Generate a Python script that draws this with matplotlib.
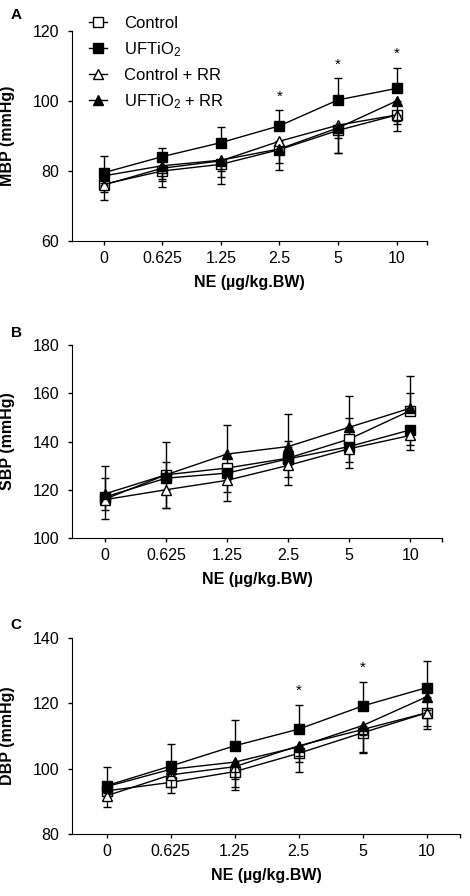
import numpy as np
import matplotlib
matplotlib.use("Agg")
import matplotlib.pyplot as plt

plt.rcParams['font.family'] = ['Liberation Sans', 'DejaVu Sans']
plt.rcParams['mathtext.fontset'] = 'custom'
plt.rcParams['mathtext.rm'] = 'Liberation Sans'
plt.rcParams['mathtext.default'] = 'regular'

doses = ['0', '0.625', '1.25', '2.5', '5', '10']
groups = ['Control', 'UFTiO$_2$', 'Control + RR', 'UFTiO$_2$ + RR']

# panel A - MBP
mbp_ctrl = [76.2, 80.0, 81.9, 86.1, 91.6, 96.0]
mbp_uf = [79.5, 84.1, 88.1, 92.9, 100.3, 103.6]
mbp_ctrl_rr = [76.0, 80.8, 82.9, 88.5, 93.1, 96.0]
mbp_uf_rr = [78.6, 81.5, 83.1, 86.3, 92.3, 100.0]
mbp_ctrl_err = [4.6, 4.5, 5.7, 5.9, 6.5, 4.7]
mbp_uf_err = [4.8, 2.6, 4.4, 4.4, 6.2, 5.9]
mbp_ctrl_rr_err = [1.9, 3.0, 4.5, 3.5, 8.0, 2.7]
mbp_uf_rr_err = [2.0, 4.5, 3.0, 3.9, 3.0, 5.6]
mbp_stars = [3, 4, 5]

# panel B - SBP
sbp_ctrl = [116.1, 126.2, 129.0, 133.1, 141.0, 152.8]
sbp_uf = [117.0, 124.8, 126.9, 132.8, 137.9, 144.8]
sbp_ctrl_rr = [115.9, 120.0, 123.9, 130.1, 137.0, 142.5]
sbp_uf_rr = [118.3, 126.2, 134.8, 137.9, 145.9, 153.8]
sbp_ctrl_err = [8.7, 5.2, 4.0, 7.3, 8.7, 7.5]
sbp_uf_err = [9.1, 12.4, 8.0, 7.7, 6.6, 6.2]
sbp_ctrl_rr_err = [4.2, 7.6, 8.6, 8.3, 7.8, 5.9]
sbp_uf_rr_err = [11.4, 13.8, 12.2, 13.5, 13.0, 13.4]
sbp_stars = []

# panel C - DBP
dbp_ctrl = [93.2, 95.8, 99.1, 104.7, 111.0, 117.1]
dbp_uf = [94.8, 100.8, 107.0, 112.1, 119.2, 124.8]
dbp_ctrl_rr = [91.7, 98.1, 100.6, 107.0, 112.0, 117.1]
dbp_uf_rr = [94.5, 99.8, 102.0, 106.7, 113.2, 122.0]
dbp_ctrl_err = [2.7, 3.1, 5.6, 5.6, 6.1, 5.0]
dbp_uf_err = [5.8, 6.8, 7.9, 7.4, 7.4, 8.1]
dbp_ctrl_rr_err = [3.3, 3.8, 6.1, 3.0, 6.8, 3.9]
dbp_uf_rr_err = [2.0, 2.0, 5.2, 4.8, 3.0, 4.0]
dbp_stars = [3, 4]

W, H = 470, 896
fig = plt.figure(figsize=(W / 100, H / 100), dpi=100)

def add_ax(left, right, top, bottom):
    return fig.add_axes([left / W, 1 - bottom / H, (right - left) / W, (bottom - top) / H])

def draw_panel(ax, ctrl, uf, ctrl_rr, uf_rr, errs, dirs, ylim, yticks, ylabel, stars):
    x = np.arange(len(doses))
    styles = [('s', 'white', 6.5), ('s', 'black', 6.5), ('^', 'white', 7), ('^', 'black', 7)]
    series = [ctrl, uf, ctrl_rr, uf_rr]
    for i, (vals, err, d, (m, fc, ms)) in enumerate(zip(series, errs, dirs, styles)):
        err = np.array(err)
        zero = np.zeros_like(err)
        yerr = [zero, err] if d == 'up' else [err, zero]
        ax.errorbar(x, vals, yerr=yerr, color='black', lw=1, marker=m, mfc=fc, mec='black',
                    ms=ms, mew=1, capsize=3, elinewidth=1, capthick=1, label=groups[i], zorder=3 + i)
    for s in stars:
        top = uf[s] + errs[1][s]
        ax.annotate('*', (x[s], top), xytext=(0, 5), textcoords='offset points',
                    ha='center', va='bottom', fontsize=11)
    ax.set_xlim(-0.54, 5.52)
    ax.set_ylim(*ylim)
    ax.set_yticks(yticks)
    ax.set_xticks(list(x) + [5.52])
    ax.set_xticklabels(doses + [''])
    ax.spines['top'].set_visible(False)
    ax.spines['right'].set_visible(False)
    ax.tick_params(axis='both', direction='out', length=3, width=1, labelsize=11.5)
    ax.tick_params(axis='x', pad=4)
    ax.tick_params(axis='y', pad=6)
    ax.set_xlabel('NE (µg/kg.BW)', fontsize=11.5, fontweight='bold', labelpad=7)
    ax.set_ylabel(ylabel, fontsize=11.5, fontweight='bold')

axA = add_ax(72, 427, 31, 241)
axB = add_ax(72, 442, 345, 538)
axC = add_ax(72, 460, 638, 834)

draw_panel(axA, mbp_ctrl, mbp_uf, mbp_ctrl_rr, mbp_uf_rr,
           [mbp_ctrl_err, mbp_uf_err, mbp_ctrl_rr_err, mbp_uf_rr_err],
           ['down', 'up', 'down', 'down'], (60, 120), [60, 80, 100, 120], 'MBP (mmHg)', mbp_stars)
draw_panel(axB, sbp_ctrl, sbp_uf, sbp_ctrl_rr, sbp_uf_rr,
           [sbp_ctrl_err, sbp_uf_err, sbp_ctrl_rr_err, sbp_uf_rr_err],
           ['up', 'down', 'down', 'up'], (100, 180), [100, 120, 140, 160, 180], 'SBP (mmHg)', sbp_stars)
draw_panel(axC, dbp_ctrl, dbp_uf, dbp_ctrl_rr, dbp_uf_rr,
           [dbp_ctrl_err, dbp_uf_err, dbp_ctrl_rr_err, dbp_uf_rr_err],
           ['down', 'up', 'down', 'down'], (80, 140), [80, 100, 120, 140], 'DBP (mmHg)', dbp_stars)

for ax, left, right in [(axA, 72, 427), (axB, 72, 442), (axC, 72, 460)]:
    ax.yaxis.set_label_coords((15 - left) / (right - left), 0.5)

handles, labels = axA.get_legend_handles_labels()
handles = [h[0] for h in handles]
axA.legend(handles, labels, loc='upper left', bbox_to_anchor=(89 / W, 1 - 16 / H),
           bbox_transform=fig.transFigure, frameon=False, fontsize=12, handlelength=1.1,
           handletextpad=1.0, labelspacing=0.55, borderpad=0, borderaxespad=0)

for letter, y in [('A', 15), ('B', 333), ('C', 625)]:
    fig.text(16 / W, 1 - y / H, letter, fontsize=11, fontweight='bold', ha='center', va='center')

fig.savefig('out.png', dpi=100)
